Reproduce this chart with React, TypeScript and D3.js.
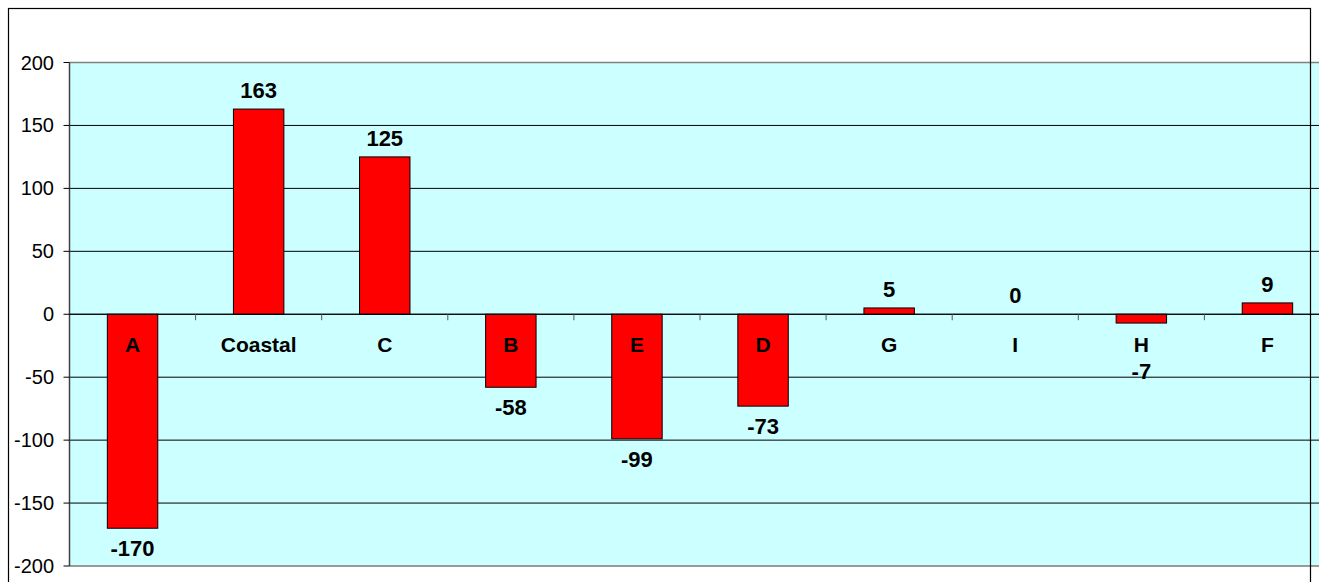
import React from 'react';
import * as d3 from 'd3';

const categories = ['A', 'Coastal', 'C', 'B', 'E', 'D', 'G', 'I', 'H', 'F'];
const values = [-170, 163, 125, -58, -99, -73, 5, 0, -7, 9];
const yTicks = [200, 150, 100, 50, 0, -50, -100, -150, -200];

const W = 1319;
const H = 582;
const plot = { left: 69.5, top: 62.5, right: 1330.5, bottom: 566 };
const font = 'Arial, "Liberation Sans", sans-serif';

const App: React.FC = () => {
  const x = d3
    .scaleBand()
    .domain(categories)
    .range([plot.left, plot.right])
    .paddingInner(0.6)
    .paddingOuter(0.3);

  const y = d3.scaleLinear().domain([-200, 200]).range([plot.bottom, plot.top]);
  const y0 = y(0);
  const step = x.step();
  const catBaseline = y0 + 38;

  return (
    <svg
      width={W}
      height={H}
      style={{ position: 'absolute', left: 0, top: 0, background: '#fff' }}
      fontFamily={font}
    >
      <rect
        x={plot.left}
        y={plot.top}
        width={plot.right - plot.left}
        height={plot.bottom - plot.top}
        fill="#CCFFFF"
      />
      {/* gridlines */}
      {yTicks
        .filter((t) => t !== 200 && t !== -200)
        .map((t) => (
          <line key={t} x1={plot.left} x2={plot.right} y1={y(t)} y2={y(t)} stroke="#000" strokeWidth={1} />
        ))}
      <line x1={plot.left} x2={plot.right} y1={plot.top} y2={plot.top} stroke="#808080" strokeWidth={1.5} />
      <line x1={plot.left} x2={plot.right} y1={plot.bottom} y2={plot.bottom} stroke="#999" strokeWidth={2} />

      {/* bars */}
      {values.map((v, i) => (
        <rect
          key={categories[i]}
          x={x(categories[i])!}
          y={y(Math.max(v, 0))}
          width={x.bandwidth()}
          height={Math.abs(y(v) - y0)}
          fill="#FF0000"
          stroke="#000"
          strokeWidth={1}
        />
      ))}

      {/* y axis */}
      <line x1={plot.left} x2={plot.left} y1={plot.top} y2={plot.bottom} stroke="#404040" strokeWidth={1.5} />
      {yTicks.map((t) => (
        <g key={t}>
          <line x1={plot.left - 6} x2={plot.left} y1={y(t)} y2={y(t)} stroke="#000" />
          <text x={54} y={y(t) + 7} textAnchor="end" fontSize={20} fill="#000">
            {t}
          </text>
        </g>
      ))}

      {/* x axis at zero */}
      <line x1={plot.left} x2={plot.right} y1={y0} y2={y0} stroke="#000" strokeWidth={1.2} />
      {categories.slice(1).map((c, i) => {
        const bx = plot.left + step * (i + 1);
        return <line key={c} x1={bx} x2={bx} y1={y0} y2={y0 + 6} stroke="#555" />;
      })}
      {categories.map((c) => (
        <text
          key={c}
          x={x(c)! + x.bandwidth() / 2}
          y={catBaseline}
          textAnchor="middle"
          fontSize={21}
          fontWeight="bold"
          fill="#000"
        >
          {c}
        </text>
      ))}

      {/* value labels */}
      {values.map((v, i) => {
        const cx = x(categories[i])! + x.bandwidth() / 2;
        let ly = v >= 0 ? y(v) - 11 : y(v) + 28;
        if (v < 0 && ly < catBaseline + 27) ly = catBaseline + 27;
        return (
          <text key={categories[i]} x={cx} y={ly} textAnchor="middle" fontSize={22} fontWeight="bold" fill="#000">
            {v}
          </text>
        );
      })}

      {/* chart border */}
      <rect x={8.5} y={8.5} width={1302} height={H} fill="none" stroke="#000" strokeWidth={1.2} />
    </svg>
  );
};

export default App;
